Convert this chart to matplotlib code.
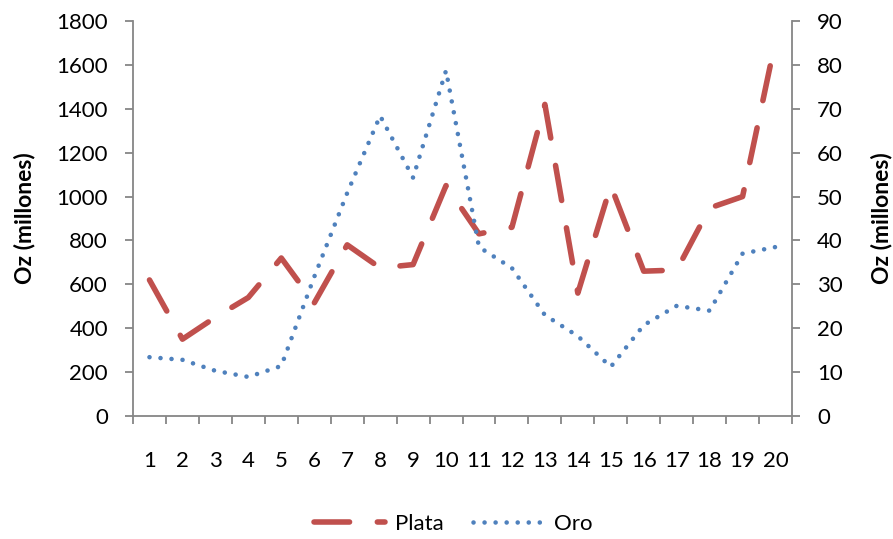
import matplotlib
matplotlib.use("Agg")
import matplotlib.pyplot as plt
from matplotlib.lines import Line2D

plt.rcParams['font.family'] = ['Lato', 'DejaVu Sans']

categories = [str(i) for i in range(1, 21)]
plata = [620, 350, 450, 540, 720, 515, 780, 675, 690, 1050,
         830, 860, 1420, 560, 1050, 660, 665, 948, 1000, 1710]
oro = [13.4, 12.8, 10.3, 8.9, 11.4, 31.7, 50.8, 68.4, 54.3, 78.7,
       38.5, 33.7, 23.0, 18.2, 11.2, 20.7, 25.1, 24.0, 37.0, 38.5]
left_ticks = [0, 200, 400, 600, 800, 1000, 1200, 1400, 1600, 1800]
right_ticks = [0, 10, 20, 30, 40, 50, 60, 70, 80, 90]

red = '#C0504D'
blue = '#4F81BD'
gray = '#868686'

red_ls = (0, (6.4, 5.0))
blue_ls = (0, (0.01, 2.4))
red_lw = 4.0
blue_lw = 3.3

fig = plt.figure(figsize=(8.93, 5.39), dpi=100)
ax = fig.add_axes([133/893, 1-416/539, (792-133)/893, (416-21)/539])
ax2 = ax.twinx()

x = list(range(len(categories)))
ax.plot(x, plata, color=red, lw=red_lw, linestyle=red_ls,
        dash_capstyle='round', solid_capstyle='round', zorder=3)
ax2.plot(x, oro, color=blue, lw=blue_lw, linestyle=blue_ls,
         dash_capstyle='round', zorder=2)

ax.set_xlim(-0.5, len(categories) - 0.5)
ax.set_ylim(0, 1800)
ax2.set_ylim(0, 90)
ax.set_yticks(left_ticks)
ax2.set_yticks(right_ticks)
ax.set_xticks(x)
ax.set_xticklabels(categories)
ax.set_xticks([i - 0.5 for i in range(len(categories) + 1)], minor=True)

for a in (ax, ax2):
    a.spines['top'].set_visible(False)
    for s in ('left', 'right', 'bottom'):
        a.spines[s].set_color(gray)
        a.spines[s].set_linewidth(1.3)
    a.tick_params(labelsize=16, colors='black', length=0)

ax.spines['right'].set_visible(False)
ax2.spines['left'].set_visible(False)
ax2.spines['bottom'].set_visible(False)
ax.tick_params(axis='y', which='major', length=6, color=gray, width=1.3, pad=12)
ax2.tick_params(axis='y', which='major', length=6, color=gray, width=1.3, pad=12)
ax.tick_params(axis='x', which='major', length=0, pad=25)
ax.tick_params(axis='x', which='minor', length=6, color=gray, width=1.3)

ax.set_ylabel('Oz (millones)', fontsize=16.5, fontweight='bold', labelpad=15)
ax2.set_ylabel('Oz (millones)', fontsize=16.5, fontweight='bold', labelpad=20, rotation=90)

handles = [Line2D([], [], color=red, lw=red_lw, linestyle=red_ls, dash_capstyle='round'),
           Line2D([], [], color=blue, lw=blue_lw, linestyle=blue_ls, dash_capstyle='round')]
fig.legend(handles, ['Plata', 'Oro'], loc='center', bbox_to_anchor=(453/893, 1-524/539),
           ncol=2, frameon=False, fontsize=16, handlelength=3.2, columnspacing=1.3,
           handletextpad=0.45)

fig.savefig('out.png', dpi=100)
